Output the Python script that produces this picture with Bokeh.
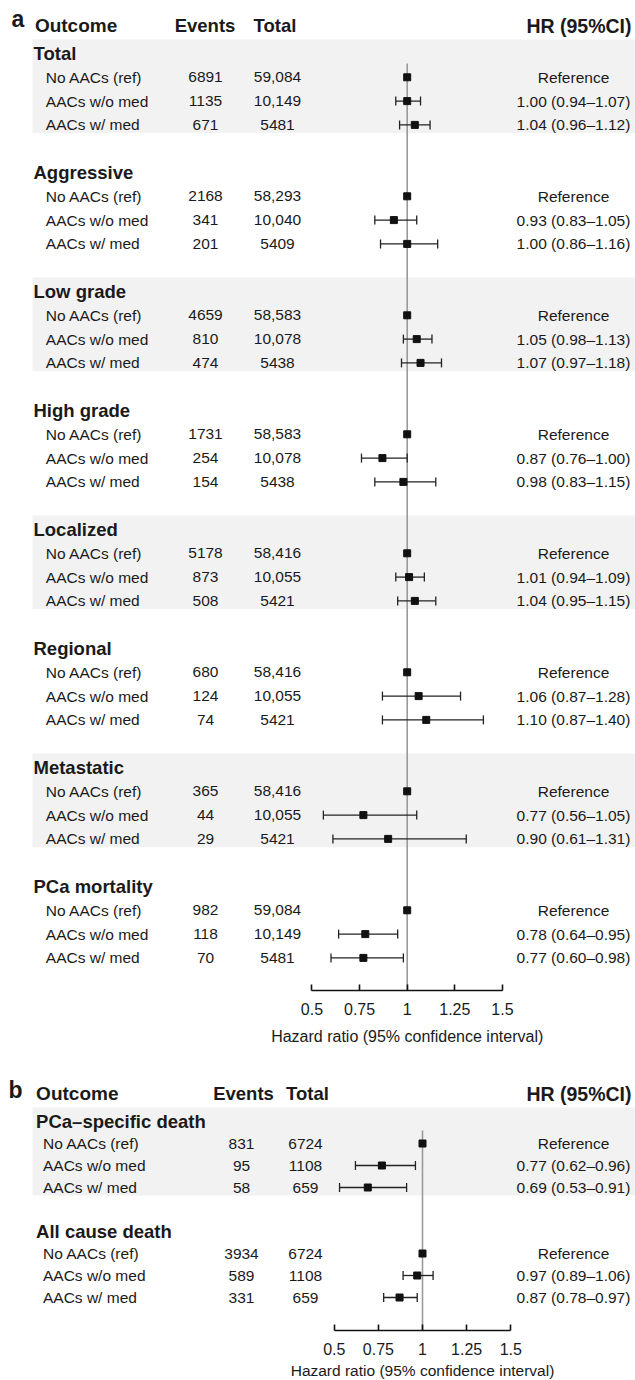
from bokeh.plotting import figure
from bokeh.models import Range1d, LinearAxis, FixedTicker, ColumnDataSource
from bokeh.core.properties import value
from bokeh.embed import file_html
from bokeh.resources import INLINE

# ---------------- data ----------------
groups = ["No AACs (ref)", "AACs w/o med", "AACs w/ med"]

outcomes_a = ["Total", "Aggressive", "Low grade", "High grade",
              "Localized", "Regional", "Metastatic", "PCa mortality"]
events_a = [[6891, 1135, 671], [2168, 341, 201], [4659, 810, 474], [1731, 254, 154],
            [5178, 873, 508], [680, 124, 74], [365, 44, 29], [982, 118, 70]]
totals_a = [[59084, 10149, 5481], [58293, 10040, 5409], [58583, 10078, 5438],
            [58583, 10078, 5438], [58416, 10055, 5421], [58416, 10055, 5421],
            [58416, 10055, 5421], [59084, 10149, 5481]]
hr_a = [[1.00, 1.00, 1.04], [1.00, 0.93, 1.00], [1.00, 1.05, 1.07], [1.00, 0.87, 0.98],
        [1.00, 1.01, 1.04], [1.00, 1.06, 1.10], [1.00, 0.77, 0.90], [1.00, 0.78, 0.77]]
lo_a = [[None, 0.94, 0.96], [None, 0.83, 0.86], [None, 0.98, 0.97], [None, 0.76, 0.83],
        [None, 0.94, 0.95], [None, 0.87, 0.87], [None, 0.56, 0.61], [None, 0.64, 0.60]]
hi_a = [[None, 1.07, 1.12], [None, 1.05, 1.16], [None, 1.13, 1.18], [None, 1.00, 1.15],
        [None, 1.09, 1.15], [None, 1.28, 1.40], [None, 1.05, 1.31], [None, 0.95, 0.98]]

outcomes_b = ["PCa\u2013specific death", "All cause death"]
events_b = [[831, 95, 58], [3934, 589, 331]]
totals_b = [[6724, 1108, 659], [6724, 1108, 659]]
hr_b = [[1.00, 0.77, 0.69], [1.00, 0.97, 0.87]]
lo_b = [[None, 0.62, 0.53], [None, 0.89, 0.78]]
hi_b = [[None, 0.96, 0.91], [None, 1.06, 0.97]]

tick_values = [0.5, 0.75, 1.0, 1.25, 1.5]
tick_labels = ["0.5", "0.75", "1", "1.25", "1.5"]
axis_title = "Hazard ratio (95% confidence interval)"
col_heads = ["Outcome", "Events", "Total", "HR (95%CI)"]

# ---------------- layout ----------------
W, H = 635, 1380
FONT = value("Liberation Sans")
TXT = "#1a1a1a"

LAYOUT = {
    "a": dict(letter="a", letter_x=11, letter_y=18, head_y=25, sec0=53, sec_step=119,
              row_step=23.8, x_one=406.7, px_per=190.5, sec_x=33, row_x=45.3,
              ev_x=205, tot_x=277, hr_x=573, head_out_x=34.4, head_ev_x=204.5,
              head_tot_x=274.5, axis_y=990, title_y=1036, line_top=63,
              title_size="16px"),
    "b": dict(letter="b", letter_x=8, letter_y=1089, head_y=1093, sec0=1121, sec_step=110,
              row_step=22.0, x_one=422.0, px_per=176.5, sec_x=35.6, row_x=42.5,
              ev_x=241, tot_x=305, hr_x=573, head_out_x=35.6, head_ev_x=243,
              head_tot_x=307, axis_y=1330, title_y=1370, line_top=1130,
              title_size="15.5px"),
}

p = figure(width=W, height=H, output_backend="svg", toolbar_location=None,
           x_range=Range1d(0, W), y_range=Range1d(H, 0),
           x_axis_location=None, y_axis_location=None, min_border=0,
           outline_line_color=None, background_fill_color="white")
p.grid.visible = False

for name, L in LAYOUT.items():
    start = 1 + (0 - L["x_one"]) / L["px_per"]
    end = 1 + (W - L["x_one"]) / L["px_per"]
    p.extra_x_ranges[name] = Range1d(start, end)


def fmt_n(n):
    return f"{n:,}" if n >= 10000 else str(n)


def draw_panel(name, outcomes, events, totals, hr, lo, hi):
    L = LAYOUT[name]
    n = len(outcomes)
    sec_y = [L["sec0"] + L["sec_step"] * s for s in range(n)]

    # shaded bands on alternating sections
    bs = list(range(0, n, 2))
    p.quad(left=32, right=W,
           top=[sec_y[s] - 14 for s in bs],
           bottom=[sec_y[s] + 3 * L["row_step"] + 8 for s in bs],
           fill_color="#f2f2f2", line_color=None)

    # panel letter and column headers
    p.text(x=[L["letter_x"]], y=[L["letter_y"]], text=[L["letter"]], text_font=FONT,
           text_font_size=value("23px"), text_font_style="bold", text_color=TXT,
           text_baseline="middle", text_align="left")
    p.text(x=[L["head_out_x"]], y=[L["head_y"]], text=[col_heads[0]], text_font=FONT,
           text_font_size=value("19px"), text_font_style="bold", text_color=TXT,
           text_baseline="middle", text_align="left")
    p.text(x=[L["head_ev_x"], L["head_tot_x"]], y=[L["head_y"]] * 2, text=col_heads[1:3],
           text_font=FONT, text_font_size=value("18.5px"), text_font_style="bold",
           text_color=TXT, text_baseline="middle", text_align="center")
    p.text(x=[W - 4], y=[L["head_y"]], text=[col_heads[3]], text_font=FONT,
           text_font_size=value("19.5px"), text_font_style="bold", text_color=TXT,
           text_baseline="middle", text_align="right")

    # section titles
    p.text(x=[L["sec_x"]] * n, y=sec_y, text=outcomes, text_font=FONT,
           text_font_size=value("18.5px"), text_font_style="bold", text_color=TXT,
           text_baseline="middle", text_align="left")

    # rows
    ry, lab, ev, tot, hrt = [], [], [], [], []
    px, py = [], []
    cx0, cx1, cy = [], [], []
    for s in range(n):
        for g in range(3):
            y = sec_y[s] + L["row_step"] * (g + 1)
            ry.append(y)
            lab.append(groups[g])
            ev.append(str(events[s][g]))
            tot.append(fmt_n(totals[s][g]))
            px.append(hr[s][g])
            py.append(y)
            if lo[s][g] is None:
                hrt.append("Reference")
            else:
                hrt.append(f"{hr[s][g]:.2f} ({lo[s][g]:.2f}\u2013{hi[s][g]:.2f})")
                cx0.append(lo[s][g])
                cx1.append(hi[s][g])
                cy.append(y)
    m = len(ry)
    src = ColumnDataSource(dict(y=ry, lab=lab, ev=ev, tot=tot, hrt=hrt,
                                xl=[L["row_x"]] * m, xe=[L["ev_x"]] * m,
                                xt=[L["tot_x"]] * m, xh=[L["hr_x"]] * m))
    common = dict(source=src, text_font=FONT, text_font_size=value("15.5px"),
                  text_color=TXT, text_baseline="middle")
    p.text(x="xl", y="y", text="lab", text_align="left", **common)
    p.text(x="xe", y="y", text="ev", text_align="center", **common)
    p.text(x="xt", y="y", text="tot", text_align="center", **common)
    p.text(x="xh", y="y", text="hrt", text_align="center", **common)

    # reference line at HR = 1
    p.segment(x0=[1.0], x1=[1.0], y0=[L["line_top"]], y1=[L["axis_y"]], x_range_name=name,
              line_color="#9a9a9a", line_width=1.6)

    # confidence intervals with caps
    p.segment(x0=cx0, x1=cx1, y0=cy, y1=cy, x_range_name=name,
              line_color="#222222", line_width=1.3)
    p.segment(x0=cx0 + cx1, x1=cx0 + cx1, y0=[y - 4.5 for y in cy] * 2,
              y1=[y + 4.5 for y in cy] * 2, x_range_name=name,
              line_color="#222222", line_width=1.3)
    p.scatter(x=px, y=py, marker="square", size=7, x_range_name=name,
              fill_color="#111111", line_color="#111111")

    # axis
    ax = LinearAxis(x_range_name=name, fixed_location=L["axis_y"], bounds=(0.5, 1.5),
                    ticker=FixedTicker(ticks=tick_values),
                    major_label_overrides=dict(zip(tick_values, tick_labels)),
                    axis_line_color="#111111", axis_line_width=1.6,
                    major_tick_line_color="#111111", major_tick_line_width=1.6,
                    major_tick_in=6, major_tick_out=0, minor_tick_line_color=None,
                    major_label_standoff=12, major_label_text_font="Liberation Sans",
                    major_label_text_font_size="16px", major_label_text_color=TXT)
    p.add_layout(ax, "below")

    p.text(x=[1.0], y=[L["title_y"]], text=[axis_title], x_range_name=name,
           text_font=FONT, text_font_size=value(L["title_size"]), text_color=TXT,
           text_baseline="middle", text_align="center")


draw_panel("a", outcomes_a, events_a, totals_a, hr_a, lo_a, hi_a)
draw_panel("b", outcomes_b, events_b, totals_b, hr_b, lo_b, hi_b)

open("out.html", "w").write(file_html(p, INLINE))
